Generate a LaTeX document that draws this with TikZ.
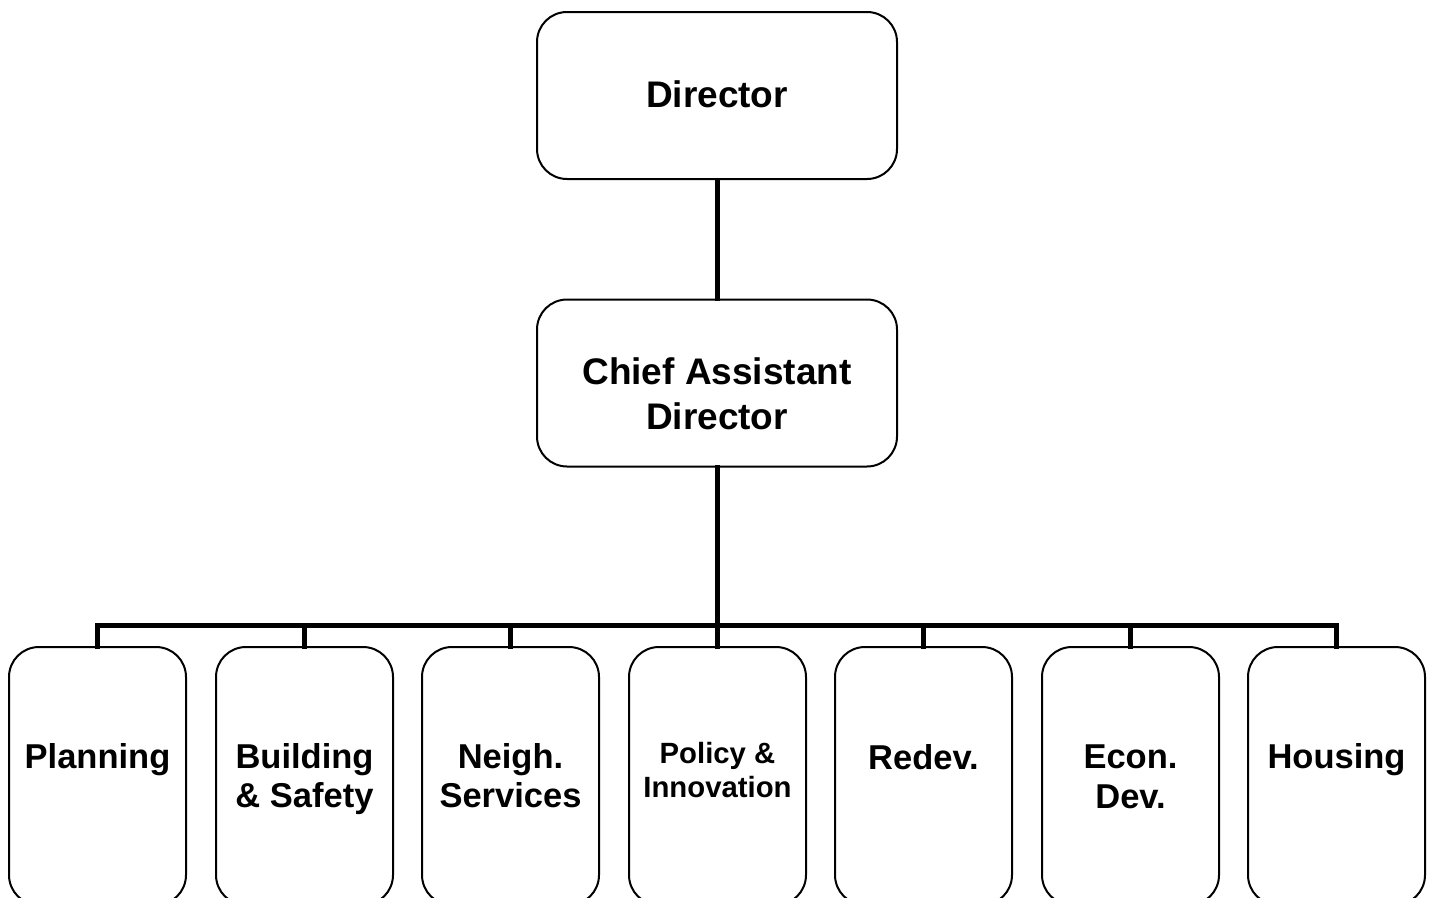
\documentclass[tikz,border=0pt]{standalone}
\usepackage{fontspec}
\setmainfont{Liberation Sans}
\begin{document}
\begin{tikzpicture}[x=1pt,y=-1pt,
  topbox/.style={draw=black, line width=2pt, rounded corners=30pt, minimum width=360pt, minimum height=167pt, inner sep=0pt, fill=white},
  deptbox/.style={draw=black, line width=2pt, rounded corners=30pt, minimum width=177pt, minimum height=258pt, inner sep=0pt, fill=white},
  toptext/.style={font=\bfseries\fontsize{37}{45}\selectfont, align=center, inner sep=0pt, anchor=base},
  depttext/.style={font=\bfseries\fontsize{34.5}{39.5}\selectfont, align=center, inner sep=0pt, anchor=base},
  smalltext/.style={font=\bfseries\fontsize{29.3}{34}\selectfont, align=center, inner sep=0pt, anchor=base},
  conn/.style={line width=5pt, line cap=rect, line join=miter}
]
\useasboundingbox (0,0) rectangle (1435,897);
\clip (0,0) rectangle (1435,897);

\coordinate (bar) at (717,625);

\node[topbox] (dir) at (717,95.5) {};
\node[topbox] (chief) at (717,383) {};
\foreach \i/\x in {1/97.5,2/304.5,3/510.5,4/717.5,5/923.5,6/1130.5,7/1336.5}{
  \node[deptbox] (b\i) at (\x,776) {};
}

\draw[conn] (dir.south) -- (chief.north);
\draw[conn] (chief.south) -- (bar);
\draw[conn] (b1.north) -- (b1.north |- bar) -- (b7.north |- bar) -- (b7.north);
\foreach \i in {2,3,4,5,6}{
  \draw[conn] (b\i.north |- bar) -- (b\i.north);
}

% base anchor = baseline of the last line
\node[toptext] (tdir) at (717,107) {Director};
\node[toptext] (tchief) at (717,429) {Chief Assistant\\Director};
\node[depttext] (t1) at (97.5,768.5) {Planning};
\node[depttext] (t2) at (304.5,807.5) {Building\\\& Safety};
\node[depttext] (t3) at (510.5,807.5) {Neigh.\\Services};
\node[smalltext] (t4) at (717.5,797.5) {Policy \&\\Innovation};
\node[depttext] (t5) at (923.5,769) {Redev.};
\node[depttext] (t6) at (1130.5,808) {Econ.\\Dev.};
\node[depttext] (t7) at (1336.5,768.5) {Housing};
\end{tikzpicture}
\end{document}
